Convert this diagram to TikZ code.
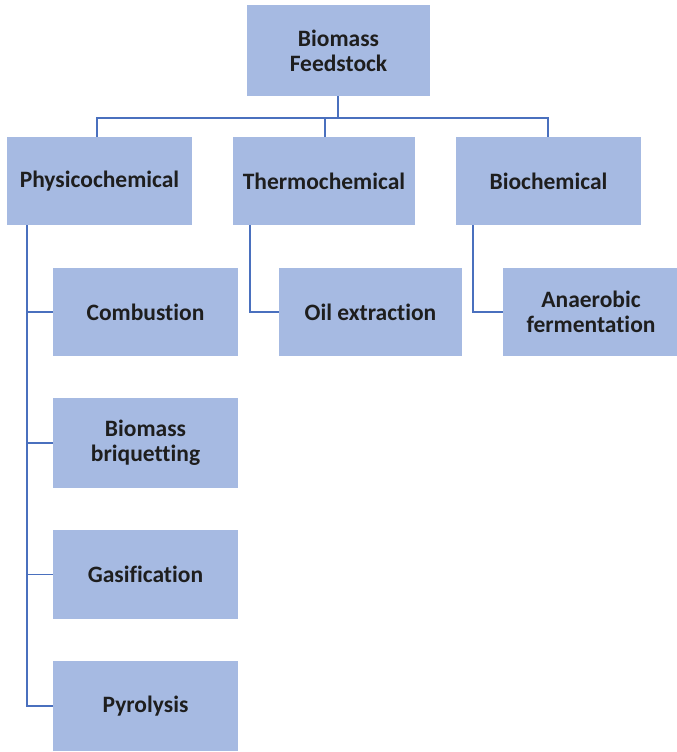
\documentclass[tikz,border=0pt]{standalone}
\usepackage{fontspec}
\setmainfont[Ligatures=NoCommon]{Carlito}
\definecolor{boxfill}{HTML}{A6BAE2}
\definecolor{linkblue}{HTML}{4A70BE}
\definecolor{labeltext}{HTML}{1E1E1E}
\begin{document}
\begin{tikzpicture}[x=1pt,y=-1pt,
  procbox/.style={fill=boxfill,draw=none,inner sep=0pt,align=center,
    font=\fontsize{23.5}{25}\selectfont\bfseries,text=labeltext},
  link/.style={draw=linkblue,line width=1.8pt}]
\useasboundingbox (0,0) rectangle (677,752);
% boxes: top, three families, and their processes
\node[procbox,minimum width=183pt,minimum height=91pt] (feed) at (338.5,50.5) {Biomass\\Feedstock};
\node[procbox,minimum width=185pt,minimum height=88pt] (phys) at (99.5,181) {Physicochemical};
\node[procbox,minimum width=182pt,minimum height=88pt] (thermo) at (324,181) {Thermochemical};
\node[procbox,minimum width=185pt,minimum height=88pt] (bio) at (548.5,181) {Biochemical};
\node[procbox,minimum width=185pt,minimum height=88pt] (comb) at (145.5,312) {Combustion};
\node[procbox,minimum width=185pt,minimum height=90pt] (briq) at (145.5,443) {Biomass\\briquetting};
\node[procbox,minimum width=185pt,minimum height=89pt] (gas) at (145.5,574.5) {Gasification};
\node[procbox,minimum width=185pt,minimum height=90pt] (pyro) at (145.5,706) {Pyrolysis};
\node[procbox,minimum width=183pt,minimum height=88pt] (oil) at (370.5,312) {Oil extraction};
\node[procbox,minimum width=176pt,minimum height=88pt] (anaer) at (591,312) {Anaerobic\\fermentation};
% branch points
\coordinate (bar) at (338,118);
\coordinate (physL) at (27,225);
\coordinate (thermoL) at (250,225);
\coordinate (bioL) at (473,225);
% connectors from the top box to the three families
\draw[link] (feed.south -| bar) -- (bar);
\draw[link] (phys.north -| 97,0) -- (97,118) -- (548,118) -- (bio.north -| 548,0);
\draw[link] (325,118) -- (thermo.north -| 325,0);
% physicochemical processes
\draw[link] (physL) |- (pyro.west);
\draw[link] (comb.west -| physL) -- (comb.west);
\draw[link] (briq.west -| physL) -- (briq.west);
\draw[link] (gas.west -| physL) -- (gas.west);
% thermochemical and biochemical processes
\draw[link] (thermoL) |- (oil.west);
\draw[link] (bioL) |- (anaer.west);
\end{tikzpicture}
\end{document}
